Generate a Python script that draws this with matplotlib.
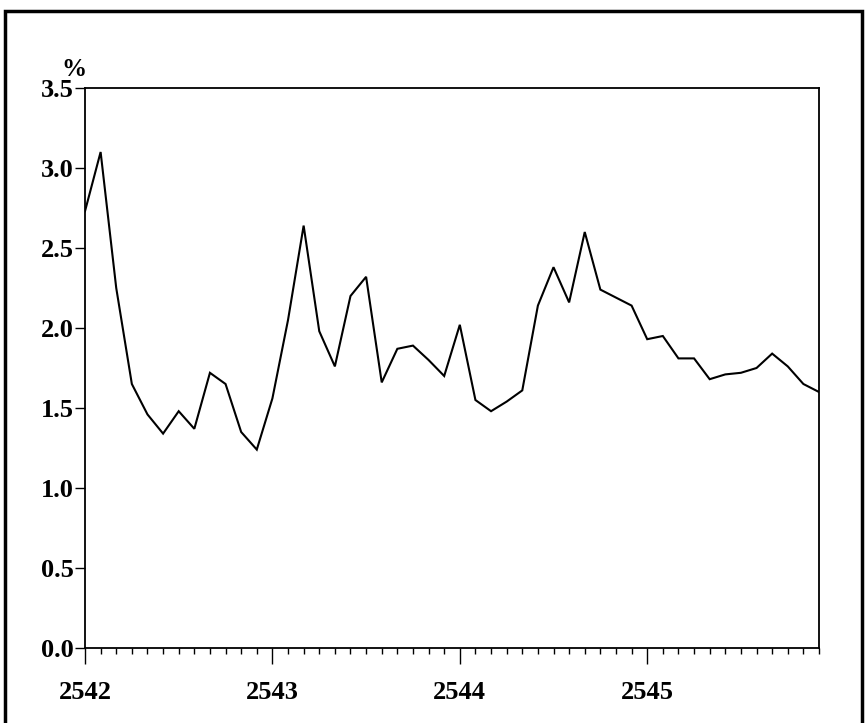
import matplotlib
matplotlib.use("Agg")
import matplotlib.pyplot as plt
from matplotlib.patches import Rectangle
from matplotlib.ticker import MultipleLocator, FixedLocator, FixedFormatter

# Monthly rate (%), 2542-2545 (B.E.)
years = ["2542", "2543", "2544", "2545"]
rate = [
    2.73, 3.10, 2.25, 1.65, 1.46, 1.34, 1.48, 1.37, 1.72, 1.65, 1.35, 1.24,
    1.56, 2.05, 2.64, 1.98, 1.76, 2.20, 2.32, 1.66, 1.87, 1.89, 1.80, 1.70,
    2.02, 1.55, 1.48, 1.54, 1.61, 2.14, 2.38, 2.16, 2.60, 2.24, 2.19, 2.14,
    1.93, 1.95, 1.81, 1.81, 1.68, 1.71, 1.72, 1.75, 1.84, 1.76, 1.65, 1.60,
]
months = list(range(len(rate)))

plt.rcParams["font.family"] = ["Liberation Serif", "DejaVu Serif"]
plt.rcParams["font.weight"] = "bold"

fig = plt.figure(figsize=(8.66, 7.23), dpi=100)
W, H = 866, 723
ax = fig.add_axes([85 / W, 1 - 648 / H, (819 - 85) / W, (648 - 88) / H])

ax.plot(months, rate, color="black", lw=1.5, solid_joinstyle="miter")

ax.set_xlim(0, len(rate) - 1)
ax.set_ylim(0, 3.5)

ax.yaxis.set_major_locator(MultipleLocator(0.5))
ax.yaxis.set_major_formatter(plt.FuncFormatter(lambda v, p: f"{v:.1f}"))
ax.tick_params(axis="y", direction="out", length=7, width=1, pad=1,
               labelsize=19)

ax.xaxis.set_major_locator(FixedLocator([12 * i for i in range(len(years))]))
ax.xaxis.set_major_formatter(FixedFormatter(years))
ax.xaxis.set_minor_locator(MultipleLocator(1))
ax.tick_params(axis="x", which="major", direction="out", length=11.5, width=1,
               pad=12, labelsize=19)
ax.tick_params(axis="x", which="minor", direction="out", length=4.5, width=1)

for s in ax.spines.values():
    s.set_linewidth(1.3)

fig.text(61 / W, 1 - 70 / H, "%", fontsize=18, fontweight="bold",
         ha="left", va="center")

# Outer frame
fig.patches.append(Rectangle((5 / W, -0.05), (862 - 5) / W, 1 - 11 / H + 0.05,
                             transform=fig.transFigure, fill=False,
                             edgecolor="black", lw=2.5))

fig.savefig("out.png", dpi=100)
